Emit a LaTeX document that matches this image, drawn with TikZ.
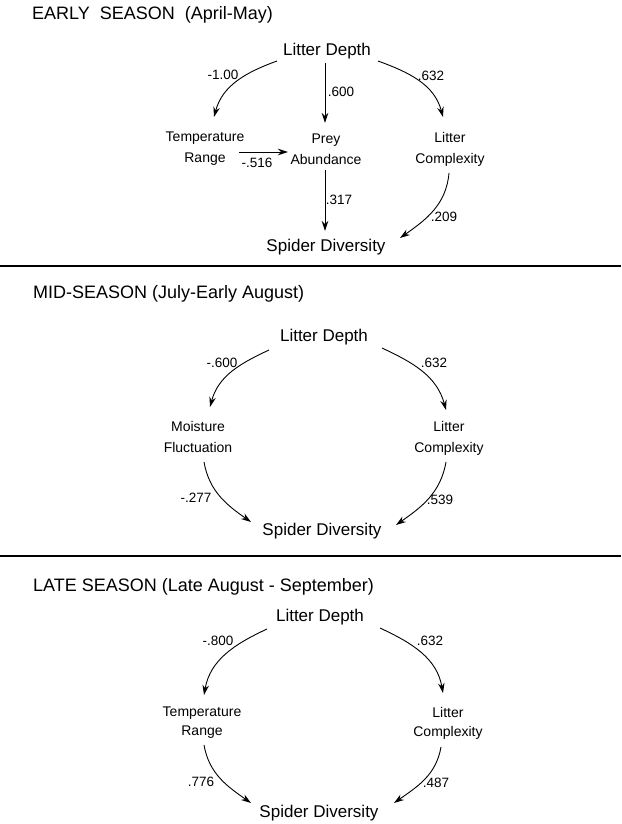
\documentclass[tikz,border=0pt]{standalone}
\usepackage{fontspec}
\setmainfont{Liberation Sans}
\usetikzlibrary{arrows.meta}
\begin{document}
\begin{tikzpicture}[x=1pt,y=1pt,
  big/.style={font=\fontsize{17}{20}\selectfont, inner sep=0pt},
  var/.style={font=\fontsize{14}{21}\selectfont, align=center, inner sep=0pt},
  varb/.style={font=\fontsize{14}{19}\selectfont, align=center, inner sep=0pt},
  coef/.style={font=\fontsize{13.5}{16}\selectfont, inner sep=0pt},
  ttl/.style={font=\fontsize{18}{22}\selectfont, anchor=west, inner sep=0pt},
  arr/.style={line width=0.9pt, -{Stealth[length=10pt,width=6.5pt]}},
  sep/.style={line width=1.2pt}]
\useasboundingbox (0,0) rectangle (621,-824);

% ---------- Early season ----------
\node[ttl] (t1) at (32,-15) {EARLY\ \ SEASON\ \ (April-May)};
\node[big] (ld1) at (327,-51) {Litter Depth};
\node[var] (tr1) at (205,-149) {Temperature\\Range};
\node[var] (pa1) at (326,-149) {Prey\\Abundance};
\node[var] (lc1) at (450,-149) {Litter\\Complexity};
\node[big] (sd1) at (326,-247) {Spider Diversity};

\draw[arr] ([shift={(-50,-10)}]ld1.center) to[out=200,in=75] ([shift={(9,32)}]tr1.center);
\draw[arr] ([shift={(-2,-12)}]ld1.center) -- ([shift={(-1,26)}]pa1.center);
\draw[arr] ([shift={(51,-10)}]ld1.center) to[out=-20,in=105] ([shift={(-7,32)}]lc1.center);
\draw[arr] ([shift={(34,-3)}]tr1.center) -- ([shift={(-38,-3)}]pa1.center);
\draw[arr] ([shift={(-1,-21)}]pa1.center) -- ([shift={(-1,16)}]sd1.center);
\draw[arr] ([shift={(-1,-24)}]lc1.center) to[out=265,in=35] ([shift={(74,9)}]sd1.center);

\node[coef] (c1a) at (223,-75) {-1.00};
\node[coef] (c1b) at (341,-92) {.600};
\node[coef] (c1c) at (431,-76) {.632};
\node[coef] (c1d) at (257,-163) {-.516};
\node[coef] (c1e) at (339,-200) {.317};
\node[coef] (c1f) at (444,-217) {.209};

\draw[sep] (0,-266) -- (621,-266);

% ---------- Mid season ----------
\node[ttl] (t2) at (33,-294) {MID-SEASON (July-Early August)};
\node[big] (ld2) at (324,-337) {Litter Depth};
\node[var] (mf2) at (198,-437) {Moisture\\Fluctuation};
\node[var] (lc2) at (449,-438) {Litter\\Complexity};
\node[big] (sd2) at (322,-531) {Spider Diversity};

\draw[arr] ([shift={(-55,-13)}]ld2.center) to[out=205,in=75] ([shift={(12,30)}]mf2.center);
\draw[arr] ([shift={(58,-11)}]ld2.center) to[out=-25,in=105] ([shift={(-3,28)}]lc2.center);
\draw[arr] ([shift={(6,-25)}]mf2.center) to[out=280,in=145] ([shift={(-71,9)}]sd2.center);
\draw[arr] ([shift={(-3,-24)}]lc2.center) to[out=260,in=35] ([shift={(74,6)}]sd2.center);

\node[coef] (c2a) at (222,-363) {-.600};
\node[coef] (c2b) at (434,-363) {.632};
\node[coef] (c2c) at (196,-498) {-.277};
\node[coef] (c2d) at (440,-500) {.539};

\draw[sep] (0,-556) -- (621,-556);

% ---------- Late season ----------
\node[ttl] (t3) at (33,-587) {LATE SEASON (Late August - September)};
\node[big] (ld3) at (320,-617) {Litter Depth};
\node[varb] (tr3) at (202,-723) {Temperature\\Range};
\node[varb] (lc3) at (448,-723) {Litter\\Complexity};
\node[big] (sd3) at (319,-813) {Spider Diversity};

\draw[arr] ([shift={(-53,-12)}]ld3.center) to[out=205,in=80] ([shift={(2,28)}]tr3.center);
\draw[arr] ([shift={(60,-11)}]ld3.center) to[out=-25,in=100] ([shift={(-5,30)}]lc3.center);
\draw[arr] ([shift={(2,-22)}]tr3.center) to[out=280,in=145] ([shift={(-68,10)}]sd3.center);
\draw[arr] ([shift={(-7,-24)}]lc3.center) to[out=260,in=35] ([shift={(75,10)}]sd3.center);

\node[coef] (c3a) at (218,-641) {-.800};
\node[coef] (c3b) at (430,-641) {.632};
\node[coef] (c3c) at (201,-782) {.776};
\node[coef] (c3d) at (436,-783) {.487};
\end{tikzpicture}
\end{document}
